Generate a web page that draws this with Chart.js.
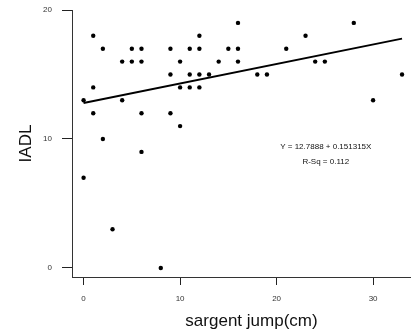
<!DOCTYPE html>
<html>
<head>
<meta charset="utf-8">
<script src="https://cdn.jsdelivr.net/npm/chart.js@4"></script>
<style>
  html, body { margin: 0; padding: 0; background: #fff; overflow: hidden; }
</style>
</head>
<body>
<canvas id="chart" width="435" height="332"></canvas>
<script>
// Data
const jumpCm = [0, 0, 1, 1, 1, 2, 2, 3, 4, 4, 5, 5, 6, 6, 6, 6, 8, 9, 9, 9, 10, 10, 10, 11, 11, 11, 12, 12, 12, 12, 13, 14, 15, 16, 16, 16, 18, 19, 21, 23, 24, 25, 28, 30, 33];
const iadl   = [13, 7, 18, 14, 12, 17, 10, 3, 16, 13, 17, 16, 17, 16, 12, 9, 0, 17, 15, 12, 16, 14, 11, 17, 15, 14, 18, 17, 15, 14, 15, 16, 17, 19, 17, 16, 15, 15, 17, 18, 16, 16, 19, 13, 15];

// Regression line
const intercept = 12.7888;
const slope = 0.151315;
const fitX = [0, 33];

// Axis ticks
const xTicks = [0, 10, 20, 30];
const yTicks = [0, 10, 20];

const eqText = "Y = 12.7888 + 0.151315X";
const rsqText = "R-Sq = 0.112";

const fontFamily = "'Liberation Sans', Arial, sans-serif";
const tickFont = { family: fontFamily, size: 8 };
const titleFont = { family: fontFamily, size: 17 };

// draws the equation text inside the plot
const eqLabel = {
  id: "eqLabel",
  afterDatasetsDraw(chart) {
    const { ctx, scales: { x, y } } = chart;
    ctx.save();
    ctx.fillStyle = "#111";
    ctx.font = "8px " + fontFamily;
    ctx.textAlign = "center";
    ctx.textBaseline = "middle";
    ctx.fillText(eqText, x.getPixelForValue(25.1), y.getPixelForValue(9.4));
    ctx.fillText(rsqText, x.getPixelForValue(25.1), y.getPixelForValue(8.25));
    ctx.restore();
  }
};

const ctx = document.getElementById("chart").getContext("2d");
new Chart(ctx, {
  data: {
    datasets: [{
      type: "scatter",
      data: jumpCm.map((v, i) => ({ x: v, y: iadl[i] })),
      backgroundColor: "#000",
      borderWidth: 0,
      pointRadius: 2.2,
      clip: false
    }, {
      type: "line",
      data: fitX.map(v => ({ x: v, y: intercept + slope * v })),
      borderColor: "#000",
      borderWidth: 2,
      pointRadius: 0,
      fill: false
    }]
  },
  options: {
    responsive: false,
    animation: false,
    layout: { padding: { top: 10, left: 0, right: 0, bottom: 0 } },
    plugins: { legend: { display: false }, tooltip: { enabled: false } },
    scales: {
      x: {
        type: "linear",
        min: -1.2,
        max: 36,
        afterBuildTicks: s => { s.ticks = xTicks.map(v => ({ value: v })); },
        afterFit: s => { s.height = 55; s.paddingLeft = 0; s.paddingRight = 0; },
        grid: { drawOnChartArea: false, tickLength: 8, color: "#222" },
        border: { color: "#333", width: 1 },
        ticks: { font: tickFont, color: "#333", padding: 9, maxRotation: 0 },
        title: { display: true, text: "sargent jump(cm)", font: titleFont, color: "#111", padding: 0 }
      },
      y: {
        type: "linear",
        min: -0.7,
        max: 20,
        afterBuildTicks: s => { s.ticks = yTicks.map(v => ({ value: v })); },
        afterFit: s => { s.width = 72; s.paddingTop = 0; s.paddingBottom = 0; },
        grid: { drawOnChartArea: false, tickLength: 10, color: "#222" },
        border: { color: "#333", width: 1 },
        ticks: { font: tickFont, color: "#333", padding: 10 },
        title: { display: true, text: "IADL", font: titleFont, color: "#111", padding: { top: 16, bottom: 0 } }
      }
    }
  },
  plugins: [eqLabel]
});
</script>
</body>
</html>
